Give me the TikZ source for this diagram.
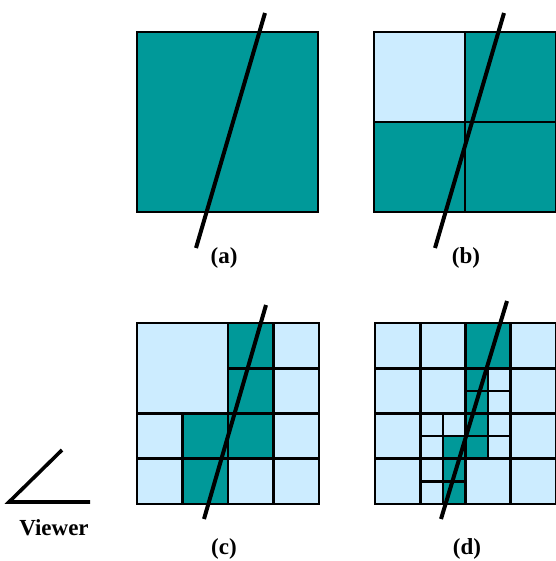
\documentclass[tikz,border=0pt]{standalone}
\usepackage{fontspec}
\setmainfont{Liberation Serif}
\definecolor{tealc}{HTML}{009999}
\definecolor{litec}{HTML}{CCECFF}
\begin{document}
\begin{tikzpicture}[x=1pt,y=-1pt,
  tc/.style={fill=tealc,draw=black,line width=2.6pt},
  lc/.style={fill=litec,draw=black,line width=2.6pt},
  outer/.style={draw=black,line width=2.8pt},
  ray/.style={line width=4pt},
  lbl/.style={font=\bfseries\fontsize{23}{27}\selectfont,anchor=base,inner sep=0pt}]
\useasboundingbox (0,0) rectangle (555,561);
% (a)
\draw[tc,line width=2.8pt] (137,32) rectangle (318,212);
\coordinate (a1) at (265,13); \coordinate (a2) at (196,248);
\draw[ray] (a1) -- (a2);
\node[lbl] (la) at (224,263) {(a)};
% (b)
\draw[lc] (374,32) rectangle (465,122);
\draw[tc] (465,32) rectangle (556,122);
\draw[tc] (374,122) rectangle (465,212);
\draw[tc] (465,122) rectangle (556,212);
\draw[outer] (374,32) rectangle (556,212);
\coordinate (b1) at (504,13); \coordinate (b2) at (435,248);
\draw[ray] (b1) -- (b2);
\node[lbl] (lb) at (466,263) {(b)};
% (c)
\begin{scope}[shift={(137,323)},x=45.5pt,y=-45.25pt]
\draw[lc] (0,0) rectangle (2,2);
\draw[tc] (2,0) rectangle (3,1);
\draw[tc] (2,1) rectangle (3,2);
\draw[lc] (3,0) rectangle (4,1);
\draw[lc] (3,1) rectangle (4,2);
\draw[lc] (0,2) rectangle (1,3);
\draw[tc] (1,2) rectangle (2,3);
\draw[tc] (2,2) rectangle (3,3);
\draw[lc] (3,2) rectangle (4,3);
\draw[lc] (0,3) rectangle (1,4);
\draw[tc] (1,3) rectangle (2,4);
\draw[lc] (2,3) rectangle (3,4);
\draw[lc] (3,3) rectangle (4,4);
\draw[outer] (0,0) rectangle (4,4);
\end{scope}
\coordinate (c1) at (266,305); \coordinate (c2) at (204,519);
\draw[ray] (c1) -- (c2);
\node[lbl] (lc) at (224,554) {(c)};
% (d)
\begin{scope}[shift={(375,323)},x=45.25pt,y=-45.25pt]
% row 0
\draw[lc] (0,0) rectangle (1,1);
\draw[lc] (1,0) rectangle (2,1);
\draw[tc] (2,0) rectangle (3,1);
\draw[lc] (3,0) rectangle (4,1);
% row 1
\draw[lc] (0,1) rectangle (1,2);
\draw[lc] (1,1) rectangle (2,2);
\draw[tc] (2,1) rectangle (2.5,1.5);
\draw[lc] (2.5,1) rectangle (3,1.5);
\draw[tc] (2,1.5) rectangle (2.5,2);
\draw[lc] (2.5,1.5) rectangle (3,2);
\draw[lc] (3,1) rectangle (4,2);
% row 2
\draw[lc] (0,2) rectangle (1,3);
\draw[lc] (1,2) rectangle (1.5,2.5);
\draw[lc] (1.5,2) rectangle (2,2.5);
\draw[lc] (1,2.5) rectangle (1.5,3);
\draw[tc] (1.5,2.5) rectangle (2,3);
\draw[tc] (2,2) rectangle (2.5,2.5);
\draw[lc] (2.5,2) rectangle (3,2.5);
\draw[tc] (2,2.5) rectangle (2.5,3);
\draw[lc] (2.5,2.5) rectangle (3,3);
\draw[lc] (3,2) rectangle (4,3);
% row 3
\draw[lc] (0,3) rectangle (1,4);
\draw[lc] (1,3) rectangle (1.5,3.5);
\draw[tc] (1.5,3) rectangle (2,3.5);
\draw[lc] (1,3.5) rectangle (1.5,4);
\draw[tc] (1.5,3.5) rectangle (2,4);
\draw[lc] (2,3) rectangle (3,4);
\draw[lc] (3,3) rectangle (4,4);
\draw[outer] (0,0) rectangle (4,4);
\end{scope}
\coordinate (d1) at (507,301); \coordinate (d2) at (441,519);
\draw[ray] (d1) -- (d2);
\node[lbl] (ld) at (467,554) {(d)};
% viewer
\coordinate (v1) at (62,450); \coordinate (v0) at (9,502); \coordinate (v2) at (90,502);
\draw[line width=3.6pt] (v1) -- (v0) -- (v2);
\node[lbl] (vw) at (54,535) {Viewer};
\end{tikzpicture}
\end{document}
